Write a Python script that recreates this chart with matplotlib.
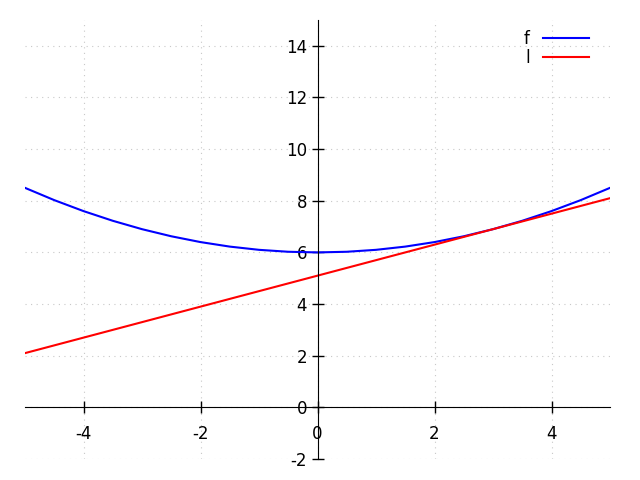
import matplotlib
matplotlib.use("Agg")
import matplotlib.pyplot as plt

# data
x_vals = [-5, -4.5, -4, -3.5, -3, -2.5, -2, -1.5, -1, -0.5, 0, 0.5, 1, 1.5, 2, 2.5, 3, 3.5, 4, 4.5, 5]
f_vals = [8.5, 8.025, 7.6, 7.225, 6.9, 6.625, 6.4, 6.225, 6.1, 6.025, 6.0, 6.025, 6.1, 6.225, 6.4, 6.625, 6.9, 7.225, 7.6, 8.025, 8.5]
l_x = [-5, 5]
l_vals = [2.1, 8.1]
x_ticks = [-4, -2, 0, 2, 4]
y_ticks = [-2, 0, 2, 4, 6, 8, 10, 12, 14]

fig = plt.figure(figsize=(6.4, 4.8), dpi=100)
ax = fig.add_axes([25/640, 1 - 459/480, 585/640, 439/480])

ax.plot(x_vals, f_vals, color='blue', lw=1.5, label='f')
ax.plot(l_x, l_vals, color='red', lw=1.5, label='l')

ax.set_xlim(-5, 5)
ax.set_ylim(-2, 15)
ax.set_xticks(x_ticks)
ax.set_yticks(y_ticks)
ax.set_xticklabels([str(t) for t in x_ticks])
ax.set_yticklabels([str(t) for t in y_ticks])

ax.spines['left'].set_position(('data', 0))
ax.spines['bottom'].set_position(('data', 0))
ax.spines['right'].set_visible(False)
ax.spines['top'].set_visible(False)

ax.tick_params(direction='inout', length=8, width=1, labelsize=12)
ax.tick_params(axis='x', pad=9)
ax.grid(True, color='#c8c8c8', linestyle=(0, (1, 4)), linewidth=0.8)
ax.set_axisbelow(True)

ax.legend(loc='upper right', bbox_to_anchor=(0.976, 0.993), frameon=False,
          markerfirst=False, fontsize=12,
          handlelength=2.76, handletextpad=0.8, labelspacing=0.05,
          borderaxespad=0)

fig.savefig('out.png', dpi=100)
